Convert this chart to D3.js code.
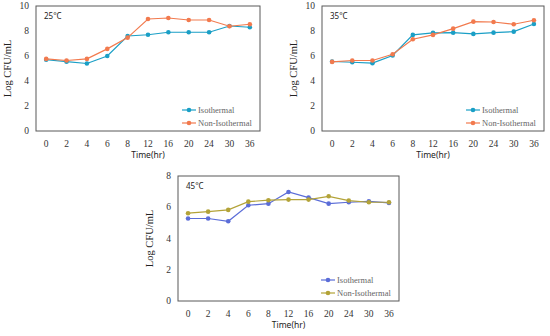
<!DOCTYPE html>
<html lang="en">
<head>
    <meta charset="UTF-8">
    <title>Log CFU/mL vs time</title>
    <script src="https://d3js.org/d3.v7.min.js"></script>
    <style>
        body { margin: 0; background: #fff; }
        .tick-label { font-family: "Liberation Serif", "DejaVu Serif", serif; font-size: 9.5px; fill: #333; }
        .axis-title { font-family: "Liberation Serif", serif; font-size: 10.5px; fill: #222; }
        .x-title { font-family: "Noto Sans", "Liberation Sans", sans-serif; font-size: 8.5px; fill: #222; }
        .temp { font-family: "Noto Sans", "Liberation Sans", sans-serif; font-size: 8px; fill: #222; }
        .legend { font-family: "Liberation Serif", serif; font-size: 8.5px; fill: #666; }
    </style>
</head>
<body>
    <svg width="550" height="336"></svg>
    <script>
        const times = ["0", "2", "4", "6", "8", "12", "16", "20", "24", "30", "36"];
        const seriesNames = ["Isothermal", "Non-Isothermal"];

        const iso25 = [5.7, 5.55, 5.4, 6.0, 7.6, 7.7, 7.9, 7.9, 7.9, 8.4, 8.3];
        const non25 = [5.77, 5.64, 5.77, 6.57, 7.47, 8.96, 9.04, 8.88, 8.88, 8.38, 8.54];

        const iso35 = [5.56, 5.5, 5.43, 6.04, 7.69, 7.85, 7.87, 7.77, 7.87, 7.95, 8.56];
        const non35 = [5.53, 5.64, 5.64, 6.14, 7.34, 7.69, 8.19, 8.75, 8.72, 8.54, 8.86];

        const iso45 = [5.28, 5.28, 5.1, 6.13, 6.23, 6.98, 6.62, 6.23, 6.32, 6.38, 6.28];
        const non45 = [5.62, 5.72, 5.83, 6.36, 6.45, 6.49, 6.49, 6.70, 6.43, 6.32, 6.32];

        const yTicks10 = [0, 2, 4, 6, 8, 10];
        const yTicks8 = [0, 2, 4, 6, 8];

        const svg = d3.select("svg");

        const panels = [
            { label: "25°C", iso: iso25, non: non25, yMax: 10, ticks: yTicks10,
              x0: 36, x1: 260, y0: 6, y1: 131, colors: ["#1a9fc6", "#f27a4e"] },
            { label: "35°C", iso: iso35, non: non35, yMax: 10, ticks: yTicks10,
              x0: 322, x1: 544, y0: 6, y1: 131, colors: ["#1a9fc6", "#f27a4e"] },
            { label: "45°C", iso: iso45, non: non45, yMax: 8, ticks: yTicks8,
              x0: 178, x1: 399, y0: 176, y1: 301, colors: ["#5b6dd8", "#b3a338"] }
        ];

        panels.forEach(p => {
            const g = svg.append("g");
            const x = d3.scalePoint().domain(times).range([p.x0, p.x1]).padding(0.5);
            const y = d3.scaleLinear().domain([0, p.yMax]).range([p.y1, p.y0]);

            g.append("rect")
                .attr("x", p.x0).attr("y", p.y0)
                .attr("width", p.x1 - p.x0).attr("height", p.y1 - p.y0)
                .attr("fill", "none").attr("stroke", "#595959").attr("stroke-width", 1);

            g.selectAll(".ytl").data(p.ticks).enter().append("text")
                .attr("class", "tick-label")
                .attr("x", p.x0 - 7).attr("y", d => y(d) + 3)
                .attr("text-anchor", "end").text(d => d);

            g.selectAll(".xtl").data(times).enter().append("text")
                .attr("class", "tick-label")
                .attr("x", d => x(d)).attr("y", p.y1 + 16)
                .attr("text-anchor", "middle").text(d => d);

            g.append("text").attr("class", "x-title")
                .attr("x", (p.x0 + p.x1) / 2).attr("y", p.y1 + 27)
                .attr("text-anchor", "middle").text("Time(hr)");

            g.append("text").attr("class", "axis-title")
                .attr("transform", `translate(${p.x0 - 25},${(p.y0 + p.y1) / 2}) rotate(-90)`)
                .attr("text-anchor", "middle").text("Log CFU/mL");

            g.append("text").attr("class", "temp")
                .attr("x", p.x0 + 8).attr("y", p.y0 + 13).text(p.label);

            const line = d3.line().x((d, i) => x(times[i])).y(d => y(d));
            [p.iso, p.non].forEach((vals, k) => {
                g.append("path").datum(vals)
                    .attr("d", line).attr("fill", "none")
                    .attr("stroke", p.colors[k]).attr("stroke-width", 1.2);
                g.selectAll(".pt" + k).data(vals).enter().append("circle")
                    .attr("cx", (d, i) => x(times[i])).attr("cy", d => y(d))
                    .attr("r", 2.3).attr("fill", p.colors[k]);
            });

            // legend
            const lx = p.x1 - 78;
            seriesNames.forEach((name, k) => {
                const ly = p.y1 - 21 + k * 13;
                g.append("line").attr("x1", lx).attr("x2", lx + 14)
                    .attr("y1", ly).attr("y2", ly)
                    .attr("stroke", p.colors[k]).attr("stroke-width", 1.2);
                g.append("circle").attr("cx", lx + 7).attr("cy", ly).attr("r", 2.3)
                    .attr("fill", p.colors[k]);
                g.append("text").attr("class", "legend")
                    .attr("x", lx + 16).attr("y", ly + 3).text(name);
            });
        });
    </script>
</body>
</html>
